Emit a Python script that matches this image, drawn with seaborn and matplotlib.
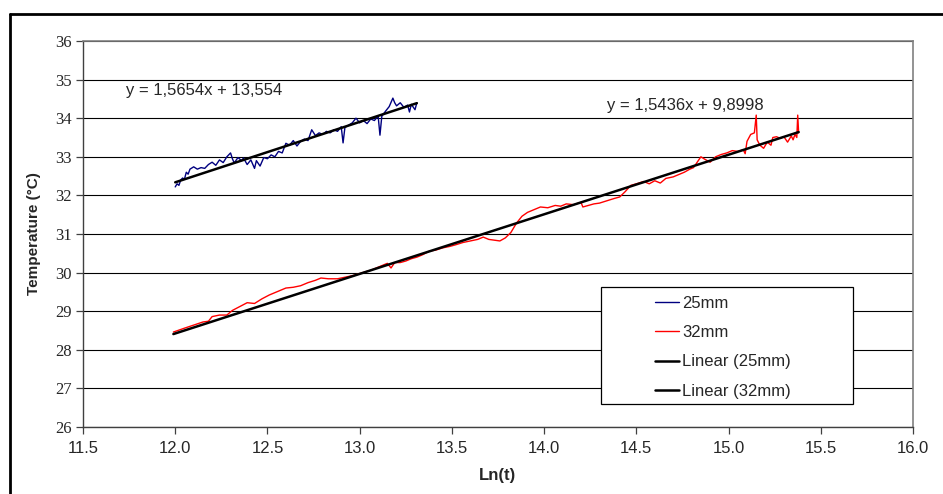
import numpy as np
import pandas as pd
import matplotlib
matplotlib.use("Agg")
import matplotlib.pyplot as plt
from matplotlib.patches import Rectangle
from matplotlib.lines import Line2D
import seaborn as sns

# Measured temperature against ln(time), 25 mm sample
ln_t_25 = [12.00, 12.01, 12.02, 12.03, 12.04, 12.05, 12.06, 12.07, 12.08, 12.10,
           12.12, 12.14, 12.16, 12.18, 12.20, 12.22, 12.24, 12.26, 12.28, 12.30,
           12.31, 12.32, 12.34, 12.36, 12.37, 12.39, 12.41, 12.43, 12.44, 12.46,
           12.48, 12.50, 12.52, 12.54, 12.56, 12.58, 12.60, 12.62, 12.64, 12.66,
           12.68, 12.70, 12.72, 12.74, 12.76, 12.78, 12.80, 12.82, 12.84, 12.86,
           12.88, 12.90, 12.91, 12.92, 12.94, 12.96, 12.98, 13.00, 13.02, 13.04,
           13.06, 13.08, 13.10, 13.11, 13.12, 13.14, 13.16, 13.18, 13.19, 13.20,
           13.22, 13.24, 13.26, 13.27, 13.28, 13.30, 13.31]
temp_25 = [32.22, 32.30, 32.26, 32.40, 32.45, 32.42, 32.60, 32.55, 32.68, 32.74,
           32.68, 32.72, 32.70, 32.80, 32.86, 32.78, 32.92, 32.85, 33.00, 33.10,
           32.95, 32.84, 32.98, 32.90, 32.97, 32.80, 32.92, 32.70, 32.90, 32.76,
           32.98, 32.95, 33.05, 33.00, 33.14, 33.10, 33.35, 33.30, 33.42, 33.28,
           33.40, 33.46, 33.42, 33.70, 33.55, 33.62, 33.58, 33.66, 33.62, 33.70,
           33.66, 33.78, 33.36, 33.76, 33.82, 33.88, 34.00, 33.88, 33.94, 33.86,
           33.98, 33.94, 34.06, 33.56, 34.05, 34.18, 34.30, 34.52, 34.40, 34.32,
           34.40, 34.28, 34.34, 34.16, 34.36, 34.22, 34.40]

# Measured temperature against ln(time), 32 mm sample
ln_t_32 = [11.99, 12.05, 12.10, 12.15, 12.18, 12.20, 12.24, 12.28, 12.31, 12.35,
           12.39, 12.43, 12.47, 12.51, 12.55, 12.60, 12.64, 12.68, 12.72, 12.76,
           12.79, 12.83, 12.88, 12.92, 12.96, 12.99, 13.03, 13.06, 13.09, 13.12,
           13.15, 13.17, 13.19, 13.22, 13.25, 13.28, 13.31, 13.34, 13.38, 13.41,
           13.45, 13.49, 13.52, 13.56, 13.60, 13.64, 13.67, 13.70, 13.73, 13.76,
           13.79, 13.82, 13.85, 13.88, 13.91, 13.95, 13.98, 14.02, 14.06, 14.09,
           14.12, 14.16, 14.20, 14.21, 14.24, 14.27, 14.30, 14.34, 14.38, 14.41,
           14.44, 14.47, 14.50, 14.54, 14.57, 14.60, 14.63, 14.66, 14.70, 14.73,
           14.76, 14.79, 14.81, 14.83, 14.85, 14.87, 14.90, 14.93, 14.96, 14.99,
           15.02, 15.05, 15.08, 15.09, 15.10, 15.12, 15.14, 15.15, 15.155, 15.17,
           15.19, 15.21, 15.23, 15.24, 15.26, 15.28, 15.30, 15.32, 15.34, 15.35,
           15.36, 15.37, 15.375, 15.38]
temp_32 = [28.46, 28.56, 28.64, 28.72, 28.74, 28.86, 28.90, 28.90, 29.02, 29.12,
           29.22, 29.20, 29.32, 29.42, 29.50, 29.60, 29.62, 29.66, 29.74, 29.80,
           29.86, 29.84, 29.84, 29.88, 29.92, 29.96, 30.02, 30.06, 30.12, 30.18,
           30.24, 30.12, 30.26, 30.26, 30.30, 30.36, 30.40, 30.46, 30.56, 30.58,
           30.64, 30.68, 30.72, 30.78, 30.82, 30.86, 30.92, 30.86, 30.84, 30.82,
           30.90, 31.04, 31.28, 31.46, 31.56, 31.64, 31.70, 31.68, 31.74, 31.72,
           31.78, 31.76, 31.82, 31.70, 31.74, 31.78, 31.80, 31.86, 31.92, 31.96,
           32.10, 32.26, 32.30, 32.36, 32.30, 32.38, 32.32, 32.44, 32.48, 32.54,
           32.60, 32.68, 32.72, 32.86, 33.00, 32.94, 32.86, 33.00, 33.06, 33.10,
           33.16, 33.14, 33.18, 33.08, 33.40, 33.58, 33.62, 34.08, 33.44, 33.30,
           33.22, 33.38, 33.30, 33.50, 33.52, 33.48, 33.52, 33.38, 33.54, 33.44,
           33.58, 33.50, 34.08, 33.62]

# Linear trend lines: slope, intercept
fit_25 = (1.5654, 13.554)
fit_32 = (1.5436, 9.8998)
eq_25 = "y = 1,5654x + 13,554"
eq_32 = "y = 1,5436x + 9,8998"

x_ticks = [11.5, 12.0, 12.5, 13.0, 13.5, 14.0, 14.5, 15.0, 15.5, 16.0]
y_ticks = list(range(26, 37))

sns.set_style("white")
plt.rcParams["font.family"] = ["Liberation Sans", "DejaVu Sans"]

fig = plt.figure(figsize=(9.43, 4.94), dpi=100)
ax = fig.add_axes([83 / 943, 1 - 427 / 494, 830 / 943, 386 / 494])

df25 = pd.DataFrame({"x": ln_t_25, "T": temp_25})
df32 = pd.DataFrame({"x": ln_t_32, "T": temp_32})


def trend(xs, coef):
    x0, x1 = min(xs), max(xs)
    return pd.DataFrame({"x": [x0, x1], "T": [coef[0] * x0 + coef[1], coef[0] * x1 + coef[1]]})


sns.lineplot(data=df25, x="x", y="T", ax=ax, color="#000080", lw=1.0,
             estimator=None, sort=False, zorder=3)
sns.lineplot(data=df32, x="x", y="T", ax=ax, color="#ff0000", lw=1.0,
             estimator=None, sort=False, zorder=3)
sns.lineplot(data=trend(ln_t_25, fit_25), x="x", y="T", ax=ax, color="black",
             lw=1.8, estimator=None, zorder=4)
sns.lineplot(data=trend(ln_t_32, fit_32), x="x", y="T", ax=ax, color="black",
             lw=1.8, estimator=None, zorder=4)

ax.set_xlim(11.5, 16.0)
ax.set_ylim(26, 36)
ax.set_xticks(x_ticks)
ax.set_xticklabels([f"{v:.1f}" for v in x_ticks], fontsize=12)
ax.set_yticks(y_ticks)
ax.set_yticklabels([str(v) for v in y_ticks], fontsize=12, family="Liberation Serif")

ax.yaxis.grid(True, color="black", lw=0.8)
ax.xaxis.grid(False)
ax.set_axisbelow(True)

for side in ("left", "bottom"):
    ax.spines[side].set_color("#404040")
    ax.spines[side].set_linewidth(1.0)
for side in ("top", "right"):
    ax.spines[side].set_visible(True)
    ax.spines[side].set_color("#808080")
    ax.spines[side].set_linewidth(1.2)

ax.tick_params(axis="both", which="major", direction="out", length=5,
               width=0.9, color="#404040", left=True, bottom=True)
ax.tick_params(axis="y", pad=3)
ax.tick_params(axis="x", pad=5)

ax.set_xlabel("Ln(t)", fontsize=12, fontweight="bold")
ax.set_ylabel("Temperature (°C)", fontsize=11, fontweight="bold")
ax.xaxis.set_label_coords(0.5, -0.105)
ax.yaxis.set_label_coords(-0.051, 0.5)

ax.text(11.733, 34.73, eq_25, fontsize=12, va="center", ha="left")
ax.text(14.34, 34.34, eq_32, fontsize=12, va="center", ha="left")

# Legend box with the entries placed inside it
box = Rectangle((518 / 830, 23 / 386), 252 / 830, 117 / 386, transform=ax.transAxes,
                facecolor="white", edgecolor="black", lw=0.9, zorder=5)
ax.add_patch(box)
handles = [Line2D([], [], color="#000080", lw=1.0),
           Line2D([], [], color="#ff0000", lw=1.0),
           Line2D([], [], color="black", lw=1.8),
           Line2D([], [], color="black", lw=1.8)]
labels = ["25mm", "32mm", "Linear (25mm)", "Linear (32mm)"]
leg = ax.legend(handles, labels, loc="upper left",
                bbox_to_anchor=(572 / 830, 1 - (296 - 41) / 386),
                frameon=False, fontsize=12, borderpad=0, borderaxespad=0,
                handlelength=1.45, handletextpad=0.2, labelspacing=0.85)
leg.set_zorder(6)

# Outer chart border
fig.add_artist(Line2D([10 / 943, 1.0], [1 - 14 / 494, 1 - 14 / 494],
                      transform=fig.transFigure, color="black", lw=2.0))
fig.add_artist(Line2D([10 / 943, 10 / 943], [0.0, 1 - 14 / 494],
                      transform=fig.transFigure, color="black", lw=2.0))

fig.savefig("out.png", dpi=100, facecolor="white")
